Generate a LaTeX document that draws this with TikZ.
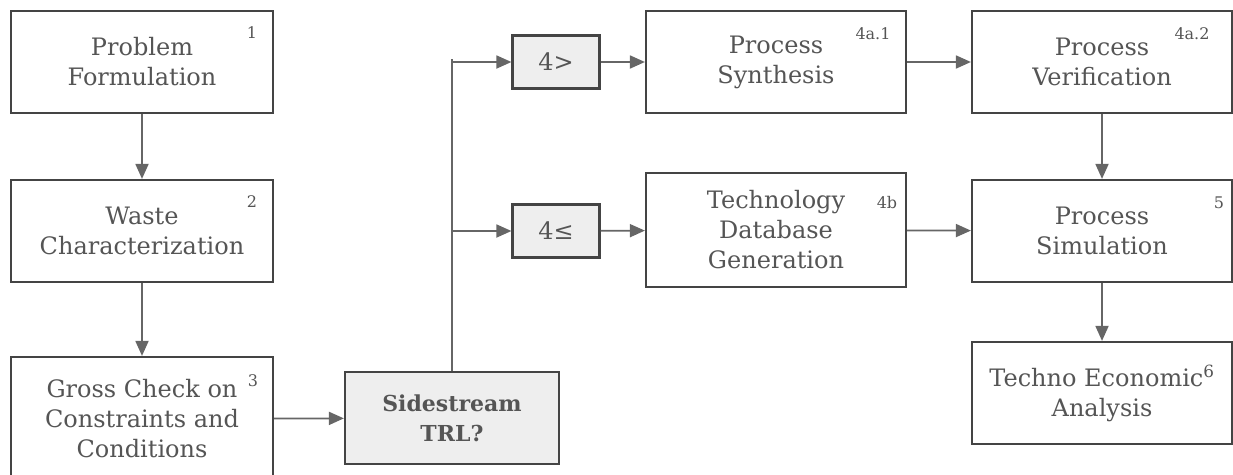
\documentclass[tikz,border=0pt]{standalone}
\usepackage{fontspec}
\setmainfont{DejaVu Serif}
\usetikzlibrary{arrows.meta}
\definecolor{boxline}{HTML}{444444}
\definecolor{wire}{HTML}{666666}
\definecolor{txt}{HTML}{555555}
\definecolor{shade}{HTML}{EEEEEE}

\begin{document}
\begin{tikzpicture}[x=1pt,y=-1pt,
        box/.style={draw=boxline, line width=2.2pt, fill=white, minimum width=262pt, minimum height=102pt,
            align=center, inner sep=0pt, text=txt, font=\fontsize{24}{30}\selectfont},
        greybox/.style={box, fill=shade},
        num/.style={inner sep=0pt, text=txt, font=\fontsize{16}{16}\selectfont},
        wireline/.style={draw=wire, line width=1.8pt},
        arr/.style={wireline, -{Triangle[length=15pt,width=13pt]}}]
            \useasboundingbox (0,0) rectangle (1233,474);
            \node[box] (prob) at (142,62) {Problem\\Formulation};
            \node[box] (waste) at (142,231) {Waste\\Characterization};
            \node[box, minimum height=124pt] (gross) at (142,419) {Gross Check on\\Constraints and\\Conditions};
            \node[greybox, minimum width=214pt, minimum height=92pt, font=\fontsize{22}{30}\selectfont\bfseries] (side) at (452,418) {Sidestream\\TRL?};
            \node[greybox, minimum width=87pt, minimum height=53pt] (gt) at (556,62) {4>};
            \node[greybox, minimum width=87pt, minimum height=53pt] (le) at (556,231) {4≤};
            \node[box, minimum width=260pt] (synth) at (776,62) {Process\\Synthesis};
            \node[box, minimum width=260pt, minimum height=114pt] (tech) at (776,230) {Technology\\Database\\Generation};
            \node[box, minimum width=260pt] (verif) at (1102,62) {Process\\Verification};
            \node[box, minimum width=260pt] (sim) at (1102,231) {Process\\Simulation};
            \node[box, minimum width=260pt] (tea) at (1102,393) {Techno Economic\textsuperscript{6}\\Analysis};
            \node[num] (n1) at (252,33) {1};
            \node[num] (n2) at (252,202) {2};
            \node[num] (n3) at (253,381) {3};
            \node[num] (n4a1) at (873,34) {4a.1};
            \node[num] (n4a2) at (1192,34) {4a.2};
            \node[num] (n4b) at (887,203) {4b};
            \node[num] (n5) at (1219,203) {5};
            \coordinate (jtop) at (452,59);
            \draw[arr] (prob) -- (waste);
            \draw[arr] (waste) -- (gross);
            \draw[arr] (gross) -- (side);
            \draw[wireline] (side.north) -- (jtop);
            \draw[arr] (jtop |- gt.west) -- (gt);
            \draw[arr] (jtop |- le.west) -- (le);
            \draw[arr] (gt) -- (synth);
            \draw[arr] (le) -- (tech);
            \draw[arr] (synth) -- (verif);
            \draw[arr] (tech) -- (sim);
            \draw[arr] (verif) -- (sim);
            \draw[arr] (sim) -- (tea);
        \end{tikzpicture}
\end{document}
